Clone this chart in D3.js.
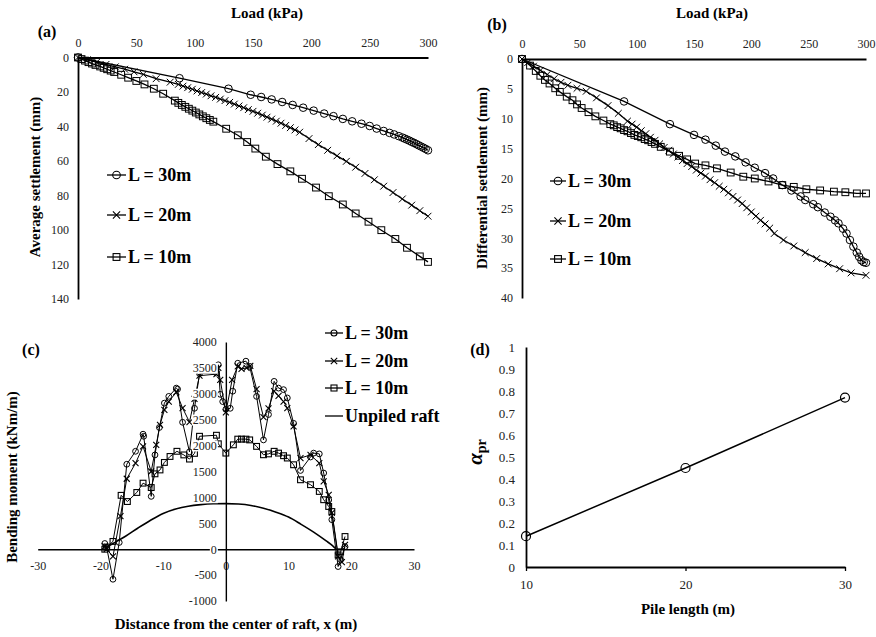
<!DOCTYPE html>
<html>
<head>
<meta charset="utf-8">
<script src="https://cdn.jsdelivr.net/npm/d3@7"></script>
<style>
  html, body { margin: 0; padding: 0; background: #fff; }
  svg { display: block; }
  text { font-family: "Liberation Serif", "Times New Roman", serif; }
</style>
</head>
<body>
<svg id="chart" width="876" height="637"></svg>
<script>
// ---------------- DATA ----------------
// Panel (a): average settlement (mm) vs load (kPa)
const loadA30 = [0, 87, 129, 148, 157, 166, 175, 184, 193, 202, 211, 219, 227, 235, 243, 250, 256, 262, 267, 271, 275, 278, 280, 282, 284, 286, 288, 290, 292, 294, 296, 298, 300];
const setA30  = [0, 12.0, 18.1, 21.6, 22.9, 24.3, 25.8, 27.5, 29.1, 30.8, 32.5, 34.0, 35.6, 37.0, 38.4, 39.7, 41.2, 42.6, 43.7, 44.6, 45.6, 46.4, 47.0, 47.6, 48.2, 48.9, 49.5, 50.2, 50.9, 51.6, 52.3, 53.0, 53.8];

const loadA20 = [0, 8, 16, 24, 32, 40, 48, 56, 67, 79, 86, 90, 94, 98, 102, 106, 110, 114, 118, 122, 126, 130, 134, 138, 142, 146, 150, 154, 158, 162, 166, 170, 174, 178, 182, 186, 190, 198, 206, 214, 222, 230, 238, 246, 254, 262, 270, 278, 286, 293, 300];
const setA20  = [0, 1.3, 2.7, 4.0, 5.4, 6.8, 8.3, 9.8, 12.3, 14.3, 15.6, 16.6, 17.5, 18.4, 19.4, 20.3, 21.2, 22.2, 23.1, 24.1, 25.0, 26.0, 27.0, 28.1, 29.1, 30.2, 31.2, 32.3, 33.4, 34.6, 35.7, 36.9, 38.1, 39.4, 40.7, 42.0, 43.3, 47.0, 50.5, 53.8, 57.0, 60.2, 63.6, 67.2, 70.9, 74.6, 78.3, 82.0, 85.6, 88.8, 92.0];

const loadA10 = [0, 3, 6, 9, 12, 15, 19, 22, 25, 28, 31, 37, 43, 50, 57, 65, 73, 83, 86, 89, 92, 95, 98, 101, 104, 107, 110, 113, 116, 127, 137, 145, 152, 161, 171, 182, 192, 204, 215, 227, 238, 249, 260, 272, 282, 293, 300];
const setA10  = [0, 0.9, 1.8, 2.7, 3.5, 4.3, 5.2, 6.0, 6.8, 7.6, 8.4, 10.0, 11.7, 13.6, 15.6, 18.1, 21.0, 25.0, 26.3, 27.5, 28.6, 29.7, 30.8, 31.9, 33.0, 34.1, 35.2, 36.2, 37.2, 41.3, 45.1, 49.0, 52.8, 57.5, 61.8, 66.0, 70.3, 75.4, 80.4, 85.2, 90.4, 95.2, 100.1, 105.2, 110.3, 115.3, 118.5];

// Panel (b): differential settlement (mm) vs load (kPa)
const loadB30 = [0, 89, 129, 150, 160, 169, 177, 186, 195, 203, 212, 219, 227, 235, 243, 247, 254, 258, 264, 269, 273, 276, 280, 283, 286, 289, 292, 294, 296, 298, 300];
const setB30  = [0, 7.1, 10.9, 12.7, 13.5, 14.5, 15.5, 16.3, 17.3, 18.2, 19.1, 20.0, 21.1, 22.0, 23.0, 23.6, 24.3, 24.8, 25.7, 26.4, 27.0, 27.5, 28.4, 29.2, 30.3, 31.4, 32.4, 33.1, 33.7, 34.0, 34.1];

const loadB20 = [0, 5, 10, 16, 22, 28, 34, 40, 48, 56, 65, 75, 84, 92, 96, 100, 104, 108, 112, 116, 120, 124, 128, 132, 136, 140, 144, 148, 152, 156, 160, 164, 168, 172, 176, 180, 184, 188, 192, 196, 200, 204, 208, 212, 216, 220, 228, 237, 247, 257, 267, 277, 287, 300];
const setB20  = [0, 0.6, 1.2, 1.9, 2.6, 3.3, 3.9, 4.4, 4.9, 5.4, 6.5, 7.8, 9.1, 10.4, 10.9, 11.4, 12.0, 12.5, 13.1, 13.6, 14.2, 14.8, 15.3, 15.9, 16.4, 17.0, 17.5, 18.0, 18.6, 19.1, 19.6, 20.2, 20.7, 21.3, 21.8, 22.4, 23.0, 23.6, 24.2, 24.9, 25.6, 26.3, 27.0, 27.6, 28.3, 29.2, 30.3, 31.3, 32.4, 33.4, 34.3, 35.1, 35.8, 36.2];

const loadB10 = [0, 7, 12, 16, 20, 24, 29, 33, 39, 44, 48, 52, 58, 64, 71, 77, 80, 83, 86, 89, 92, 95, 98, 101, 104, 107, 110, 113, 116, 121, 129, 137, 144, 151, 160, 170, 182, 193, 203, 215, 227, 237, 248, 260, 272, 282, 292, 300];
const setB10  = [0, 1.1, 2.0, 2.8, 3.5, 4.1, 4.9, 5.5, 6.3, 6.9, 7.6, 8.2, 8.9, 9.6, 10.3, 10.9, 11.1, 11.4, 11.6, 11.9, 12.1, 12.4, 12.7, 12.9, 13.1, 13.4, 13.6, 13.9, 14.2, 14.7, 15.5, 16.2, 16.8, 17.5, 17.8, 18.3, 19.0, 19.7, 20.0, 20.5, 21.1, 21.4, 21.8, 22.0, 22.2, 22.3, 22.5, 22.5];

// Panel (c): bending moment (kNm/m) vs distance from raft centre (m)
const xC30 = [-19.3, -19, -18, -17, -15.8, -14.4, -13.2, -13.1, -11.9, -11.3, -10.6, -9.8, -9.1, -7.9, -7.7, -6.9, -5.8, -5.0, -4.2, -1.5, -1.2, -0.9, -0.5, 0, 0.7, 1.1, 1.9, 3.2, 3.8, 4.9, 6.0, 6.8, 7.7, 8.4, 9.2, 9.8, 10.8, 11.9, 13.5, 14.0, 14.9, 15.6, 16.4, 16.9, 17.9, 18.3, 19.0];
const mC30 = [110, 30, -580, 130, 1640, 1890, 2220, 2180, 1020, 1820, 2350, 2820, 2950, 3110, 3090, 2450, 1880, 2720, 3390, 3400, 3560, 2990, 2850, 2700, 2720, 3050, 3590, 3630, 3530, 2950, 2110, 2600, 3240, 3110, 3080, 2920, 2430, 1520, 1780, 1855, 1840, 1470, 950, 570, -335, -200, 50];

const xC20 = [-19.3, -19, -18, -16.8, -15.8, -14.4, -13.2, -11.9, -11.1, -10.5, -9.8, -9.1, -7.9, -6.9, -5.8, -5.0, -4.2, -1.5, -1.2, -0.9, 0, 1.0, 1.9, 2.5, 3.3, 3.9, 4.9, 6.0, 6.8, 7.7, 8.4, 9.2, 9.8, 10.8, 11.9, 13.5, 14.9, 15.6, 16.4, 16.9, 17.9, 18.5, 19.0];
const mC20 = [60, 0, -140, 640, 1360, 1660, 1985, 1500, 2015, 2400, 2690, 2850, 3030, 2725, 2455, 2900, 3350, 3380, 3500, 3270, 2640, 3270, 3530, 3480, 3500, 3540, 3090, 2550, 2720, 3050, 2960, 2850, 2725, 2370, 1760, 1820, 1660, 1310, 1050, 700, -140, -250, 85];

const xC10 = [-19.3, -19, -18, -16.7, -15.7, -14.2, -13.2, -11.9, -11.3, -10.5, -9.8, -8.9, -7.8, -6.7, -5.8, -5.0, -4.2, -1.5, -1.2, 0, 1.2, 1.9, 2.5, 3.2, 3.8, 4.9, 6.0, 6.8, 7.7, 8.4, 9.2, 9.8, 10.8, 11.9, 13.5, 14.9, 15.6, 16.4, 16.9, 17.9, 18.3, 19.0];
const mC10 = [0, 40, 150, 1040, 920, 1095, 1275, 1190, 1455, 1530, 1675, 1790, 1890, 1820, 1740, 1850, 2180, 2200, 2035, 1855, 2015, 2125, 2125, 2125, 2110, 1985, 1823, 1840, 1890, 1855, 1805, 1760, 1630, 1340, 1245, 1115, 955, 825, 727, -110, -50, 245];

const xCRaft = [-19, -18, -16, -14, -12, -10, -8, -6, -4, -2, 0, 2, 4, 6, 8, 10, 12, 14, 16, 17, 17.6];
const mCRaft = [40, 110, 250, 410, 560, 690, 775, 830, 860, 876, 880, 872, 845, 790, 715, 620, 480, 330, 160, 70, 0];

// Panel (d): alpha_pr vs pile length (m)
const pileLength = [10, 20, 30];
const alphaPr = [0.14, 0.45, 0.77];

// Tick labels
const ticksLoad = [0, 50, 100, 150, 200, 250, 300];
const ticksAvgSet = [0, 20, 40, 60, 80, 100, 120, 140];
const ticksDiffSet = [0, 5, 10, 15, 20, 25, 30, 35, 40];
const ticksDist = [-30, -20, -10, 0, 10, 20, 30];
const ticksMoment = [-1000, -500, 0, 500, 1000, 1500, 2000, 2500, 3000, 3500, 4000];
const ticksPile = [10, 20, 30];
const ticksAlpha = [0, 0.1, 0.2, 0.3, 0.4, 0.5, 0.6, 0.7, 0.8, 0.9, 1];

const legendPiled = ["L = 30m", "L = 20m", "L = 10m"];
const legendRaft = "Unpiled raft";

// ---------------- DRAWING ----------------
const svg = d3.select("#chart");
const TICK_COLOR = "#222";
const plain = d => String(d);

function styleAxis(g, fontSize, domainWidth) {
  g.select(".domain").attr("stroke", "#000").attr("stroke-width", domainWidth);
  g.selectAll(".tick text").attr("fill", TICK_COLOR).attr("font-size", fontSize)
    .attr("font-family", "Liberation Serif, Times New Roman, serif");
  g.selectAll(".tick line").attr("stroke", "#000");
}

function marker(g, type, cx, cy, s, sw) {
  if (type === "circle") {
    g.append("circle").attr("cx", cx).attr("cy", cy).attr("r", s)
      .attr("fill", "none").attr("stroke", "#000").attr("stroke-width", sw);
  } else if (type === "square") {
    g.append("rect").attr("x", cx - s).attr("y", cy - s).attr("width", 2 * s).attr("height", 2 * s)
      .attr("fill", "none").attr("stroke", "#000").attr("stroke-width", sw);
  } else if (type === "cross") {
    g.append("path").attr("d", `M${cx - s},${cy - s}L${cx + s},${cy + s}M${cx - s},${cy + s}L${cx + s},${cy - s}`)
      .attr("fill", "none").attr("stroke", "#000").attr("stroke-width", sw);
  }
}

function series(g, xs, ys, xS, yS, type, size, lw, mw, curve) {
  const pts = xs.map((x, i) => [x, ys[i]]);
  const line = d3.line().x(d => xS(d[0])).y(d => yS(d[1]));
  if (curve) line.curve(curve);
  g.append("path").attr("d", line(pts)).attr("fill", "none").attr("stroke", "#000").attr("stroke-width", lw);
  if (type) {
    const mg = g.append("g");
    pts.forEach(d => marker(mg, type, xS(d[0]), yS(d[1]), size, mw));
  }
}

function legendItem(g, x0, x1, y, type, size, label, fontSize) {
  g.append("line").attr("x1", x0).attr("x2", x1).attr("y1", y).attr("y2", y)
    .attr("stroke", "#000").attr("stroke-width", 1.3);
  if (type) marker(g, type, (x0 + x1) / 2, y, size, 1.1);
  g.append("text").attr("x", x1 + 2).attr("y", y).attr("dy", "0.35em")
    .attr("font-size", fontSize).attr("font-weight", "bold").attr("fill", "#000").text(label);
}

function boldText(x, y, str, size, anchor, rotate) {
  const t = svg.append("text").attr("font-size", size).attr("font-weight", "bold")
    .attr("fill", "#000").attr("text-anchor", anchor || "middle").text(str);
  if (rotate) t.attr("transform", `translate(${x},${y}) rotate(-90)`);
  else t.attr("x", x).attr("y", y);
  return t;
}

// ===== Panel (a) =====
{
  const xA = d3.scaleLinear().domain([0, 300]).range([78, 428]);
  const yA = d3.scaleLinear().domain([0, 140]).range([57.5, 299]);
  const g = svg.append("g");
  const ax = g.append("g").attr("transform", `translate(0,${yA(0)})`)
    .call(d3.axisTop(xA).tickValues(ticksLoad).tickFormat(plain).tickSize(0).tickSizeOuter(0).tickPadding(11));
  styleAxis(ax, 12, 1.8);
  const ay = g.append("g").attr("transform", `translate(${xA(0)},0)`)
    .call(d3.axisLeft(yA).tickValues(ticksAvgSet).tickFormat(plain).tickSize(0).tickSizeOuter(0).tickPadding(9));
  styleAxis(ay, 12, 1.8);

  series(g, loadA10, setA10, xA, yA, "square", 3.4, 1.3, 1.0);
  series(g, loadA20, setA20, xA, yA, "cross", 3.4, 1.3, 1.0);
  series(g, loadA30, setA30, xA, yA, "circle", 3.8, 1.3, 1.0);

  boldText(267, 18, "Load (kPa)", 15);
  boldText(47, 37, "(a)", 16);
  boldText(40, 177, "Average settlement (mm)", 15, "middle", true);

  const lg = g.append("g");
  legendItem(lg, 107, 126, 175, "circle", 3.8, legendPiled[0], 18);
  legendItem(lg, 107, 126, 215, "cross", 3.6, legendPiled[1], 18);
  legendItem(lg, 107, 126, 257, "square", 3.4, legendPiled[2], 18);
}

// ===== Panel (b) =====
{
  const xB = d3.scaleLinear().domain([0, 300]).range([522, 866]);
  const yB = d3.scaleLinear().domain([0, 40]).range([59, 298]);
  const g = svg.append("g");
  const ax = g.append("g").attr("transform", `translate(0,${yB(0)})`)
    .call(d3.axisTop(xB).tickValues(ticksLoad).tickFormat(plain).tickSize(0).tickSizeOuter(0).tickPadding(11));
  styleAxis(ax, 12, 1.8);
  const ay = g.append("g").attr("transform", `translate(${xB(0)},0)`)
    .call(d3.axisLeft(yB).tickValues(ticksDiffSet).tickFormat(plain).tickSize(0).tickSizeOuter(0).tickPadding(9));
  styleAxis(ay, 12, 1.8);

  series(g, loadB10, setB10, xB, yB, "square", 3.4, 1.3, 1.0);
  series(g, loadB20, setB20, xB, yB, "cross", 3.4, 1.3, 1.0);
  series(g, loadB30, setB30, xB, yB, "circle", 3.8, 1.3, 1.0);

  boldText(712, 18, "Load (kPa)", 15);
  boldText(497, 30, "(b)", 16);
  boldText(487, 178, "Differential settlement (mm)", 15, "middle", true);

  const lg = g.append("g");
  legendItem(lg, 550, 566, 181, "circle", 3.8, legendPiled[0], 18);
  legendItem(lg, 550, 566, 221, "cross", 3.6, legendPiled[1], 18);
  legendItem(lg, 550, 566, 259, "square", 3.4, legendPiled[2], 18);
}

// ===== Panel (c) =====
{
  const xC = d3.scaleLinear().domain([-30, 30]).range([37.7, 414]);
  const yC = d3.scaleLinear().domain([-1000, 4000]).range([601, 342]);
  const g = svg.append("g");
  // x axis (labels below, drawn beneath the data)
  const ax = g.append("g").attr("transform", `translate(0,${yC(0)})`)
    .call(d3.axisBottom(xC).tickValues(ticksDist).tickFormat(plain).tickSize(0).tickSizeOuter(0).tickPadding(12));
  styleAxis(ax, 12, 1.4);
  // y axis line only
  const ayLine = g.append("g").attr("transform", `translate(${xC(0)},0)`)
    .call(d3.axisLeft(yC).tickValues([]).tickSize(0).tickSizeOuter(0));
  styleAxis(ayLine, 12, 1.4);

  series(g, xCRaft, mCRaft, xC, yC, null, 0, 1.6, 0, d3.curveMonotoneX);
  series(g, xC10, mC10, xC, yC, "square", 2.9, 1.0, 1.1);
  series(g, xC20, mC20, xC, yC, "cross", 3.0, 1.0, 1.1);
  series(g, xC30, mC30, xC, yC, "circle", 2.9, 1.0, 1.0);

  // y tick labels on white boxes, on top of the data
  const ayLab = g.append("g").attr("transform", `translate(${xC(0)},0)`)
    .call(d3.axisLeft(yC).tickValues(ticksMoment).tickFormat(plain).tickSize(0).tickSizeOuter(0).tickPadding(9));
  styleAxis(ayLab, 12, 0);
  ayLab.select(".domain").remove();
  ayLab.selectAll(".tick").each(function () {
    const t = d3.select(this).select("text");
    const b = t.node().getBBox();
    d3.select(this).insert("rect", "text").attr("x", b.x - 1).attr("y", b.y + 1.5)
      .attr("width", b.width + 2).attr("height", b.height - 3).attr("fill", "#fff");
  });

  boldText(31, 355, "(c)", 16);
  boldText(17, 477, "Bending moment (kNm/m)", 15, "middle", true);
  boldText(236, 629, "Distance from the center of raft, x (m)", 15);

  const lg = g.append("g");
  legendItem(lg, 325, 343, 333, "circle", 3.0, legendPiled[0], 18);
  legendItem(lg, 325, 343, 361, "cross", 3.2, legendPiled[1], 18);
  legendItem(lg, 325, 343, 388, "square", 3.0, legendPiled[2], 18);
  legendItem(lg, 325, 343, 416, null, 0, legendRaft, 18);
}

// ===== Panel (d) =====
{
  const xD = d3.scaleLinear().domain([10, 30]).range([526, 845]);
  const yD = d3.scaleLinear().domain([0, 1]).range([567, 347]);
  const g = svg.append("g");
  const ax = g.append("g").attr("transform", `translate(0,${yD(0)})`)
    .call(d3.axisBottom(xD).tickValues(ticksPile).tickFormat(plain).tickSize(4).tickSizeOuter(0).tickPadding(9));
  styleAxis(ax, 13, 1.8);
  ax.selectAll(".tick line").attr("stroke-width", 1.3);
  const ay = g.append("g").attr("transform", `translate(${xD(10)},0)`)
    .call(d3.axisLeft(yD).tickValues(ticksAlpha).tickSize(0).tickSizeOuter(0).tickPadding(11).tickFormat(plain));
  styleAxis(ay, 13, 1.8);

  series(g, pileLength, alphaPr, xD, yD, "circle", 4.5, 1.5, 1.2);

  boldText(480, 355, "(d)", 16);
  boldText(688, 614, "Pile length (m)", 15);
  const at = svg.append("text").attr("transform", "translate(482,452) rotate(-90)")
    .attr("text-anchor", "middle").attr("fill", "#000").attr("font-weight", "bold");
  at.append("tspan").attr("font-size", 21).attr("font-style", "italic").text("α");
  at.append("tspan").attr("font-size", 14).attr("dy", 4).text("pr");
}
</script>
</body>
</html>
